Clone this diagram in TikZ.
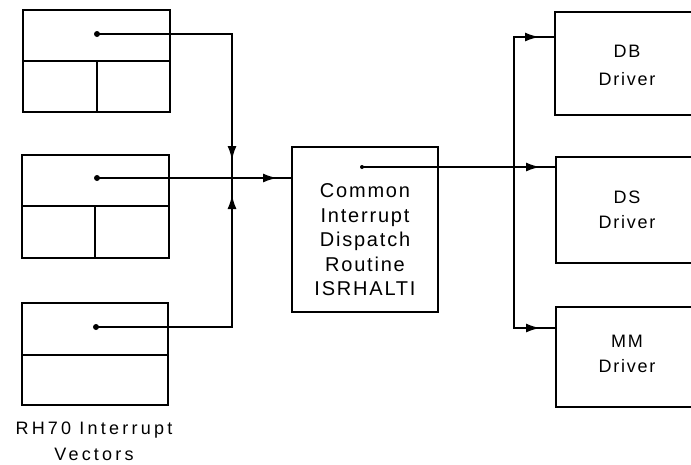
\documentclass[tikz,border=0pt]{standalone}
\usepackage{fontspec}
\setmainfont{Liberation Sans}
\usetikzlibrary{arrows.meta,decorations.markings}
\begin{document}
\begin{tikzpicture}[x=1pt,y=-1pt,
 box/.style={draw,line width=2pt,inner sep=0pt,outer sep=0pt,anchor=north west},
 part/.style={line width=2pt},
 wire/.style={line width=1.6pt},
 dotm/.style={circle,fill,inner sep=0pt,minimum size=6pt},
 midarrow/.style={postaction={decorate},decoration={markings,mark=at position #1 with {\arrow{Latex[length=14pt,width=9pt]}}}},
 lbl/.style={align=center,inner sep=0pt}]
\useasboundingbox (0,0) rectangle (691,464);
\clip (0,0) rectangle (691,464);
% interrupt vector boxes
\node[box,minimum width=147pt,minimum height=102pt] (v1) at (23,10) {};
\draw[part] (23,61) -- (170,61) (97,61) -- (97,112);
\node[box,minimum width=147pt,minimum height=103pt] (v2) at (22,155) {};
\draw[part] (22,206) -- (169,206) (95,206) -- (95,258);
\node[box,minimum width=146pt,minimum height=102pt] (v3) at (22,303) {};
\draw[part] (22,355) -- (168,355);
\node[dotm] (d1) at (97,34) {};
\node[dotm] (d2) at (97,178) {};
\node[dotm] (d3) at (96,327) {};
\node[lbl,font=\fontsize{18}{26}\selectfont\addfontfeatures{LetterSpace=18}] (cap) at (94,441) {RH70 Interrupt\\Vectors};
% common dispatch routine
\node[box,minimum width=146pt,minimum height=165pt] (cr) at (292,147) {};
\node[lbl,font=\fontsize{20}{24.5}\selectfont\addfontfeatures{LetterSpace=9}] (crt) at (365,240) {Common\\Interrupt\\Dispatch\\Routine\\ISRHALTI};
\node[dotm,minimum size=4pt] (dc) at (362,167) {};
% drivers
\node[box,minimum width=150pt,minimum height=103pt] (db) at (555,12) {};
\node[box,minimum width=150pt,minimum height=106pt] (ds) at (556,157) {};
\node[box,minimum width=150pt,minimum height=100pt] (mm) at (556,307) {};
\node[lbl,font=\fontsize{18}{28}\selectfont\addfontfeatures{LetterSpace=10}] at (627,65) {DB\\Driver};
\node[lbl,font=\fontsize{18}{25}\selectfont\addfontfeatures{LetterSpace=10}] at (627,210) {DS\\Driver};
\node[lbl,font=\fontsize{18}{25}\selectfont\addfontfeatures{LetterSpace=10}] at (627,354) {MM\\Driver};
% connectors
\coordinate (j) at (232,178);
\draw[wire,midarrow=-18pt] (d1.center) -- (232,34) -- (j);
\draw[wire,midarrow=-17pt] (d3.center) -- (232,327) -- (j);
\draw[wire] (d2.center) -- (j);
\draw[wire,midarrow=-15pt] (j) -- (cr.west |- j);
\draw[wire,midarrow=-16pt] (dc.center) -- (514,167) -- (514,37) -- (db.west |- 0,37);
\draw[wire,midarrow=-16pt] (dc.center) -- (ds.west |- dc);
\draw[wire,midarrow=-16pt] (dc.center) -- (514,167) -- (514,328) -- (mm.west |- 0,328);
\end{tikzpicture}
\end{document}
